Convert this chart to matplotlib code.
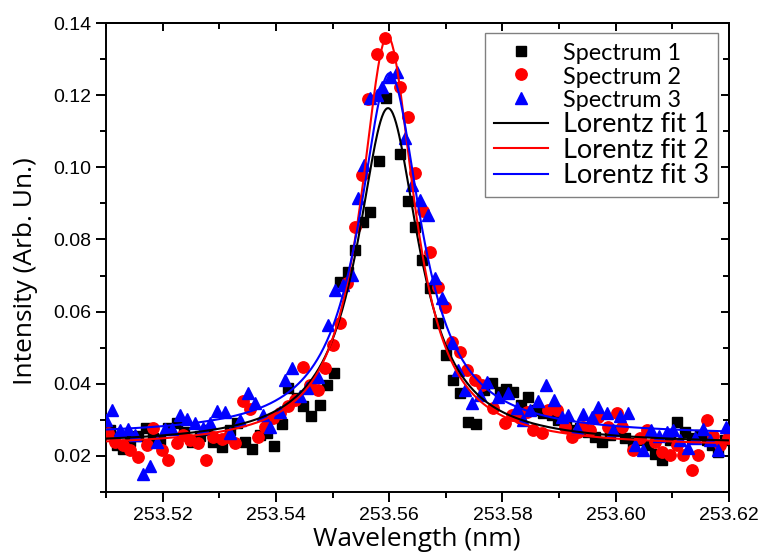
import numpy as np
import matplotlib
matplotlib.use("Agg")
import matplotlib.pyplot as plt
from matplotlib.lines import Line2D
from matplotlib.ticker import MultipleLocator, FormatStrFormatter

# ---------------- data ----------------
s1_x = [253.5107, 253.5119, 253.5130, 253.5142, 253.5156, 253.5171, 253.5183, 253.5195, 253.5209, 253.5225,
        253.5238, 253.5252, 253.5266, 253.5278, 253.5289, 253.5305, 253.5319, 253.5331, 253.5345, 253.5358,
        253.5372, 253.5384, 253.5397, 253.5411, 253.5421, 253.5437, 253.5448, 253.5462, 253.5478, 253.5490,
        253.5503, 253.5513, 253.5527, 253.5540, 253.5554, 253.5566, 253.5582, 253.5594, 253.5619, 253.5633,
        253.5646, 253.5658, 253.5672, 253.5686, 253.5700, 253.5713, 253.5725, 253.5739, 253.5753, 253.5767,
        253.5782, 253.5796, 253.5806, 253.5819, 253.5833, 253.5845, 253.5859, 253.5872, 253.5888, 253.5898,
        253.5912, 253.5925, 253.5937, 253.5951, 253.5963, 253.5976, 253.5990, 253.6002, 253.6016, 253.6031,
        253.6043, 253.6057, 253.6069, 253.6082, 253.6096, 253.6108, 253.6122, 253.6135, 253.6149, 253.6161,
        253.6170, 253.6181, 253.6193]
s1_y = [0.0272, 0.0230, 0.0219, 0.0241, 0.0255, 0.0277, 0.0250, 0.0244, 0.0277, 0.0291,
        0.0266, 0.0239, 0.0255, 0.0272, 0.0239, 0.0225, 0.0272, 0.0291, 0.0239, 0.0219,
        0.0258, 0.0264, 0.0227, 0.0288, 0.0388, 0.0361, 0.0338, 0.0311, 0.0341, 0.0397,
        0.0430, 0.0682, 0.0710, 0.0771, 0.0848, 0.0876, 0.1017, 0.1192, 0.1037, 0.0907,
        0.0835, 0.0743, 0.0665, 0.0568, 0.0480, 0.0410, 0.0374, 0.0294, 0.0288, 0.0383,
        0.0402, 0.0377, 0.0386, 0.0377, 0.0341, 0.0363, 0.0327, 0.0319, 0.0313, 0.0300,
        0.0286, 0.0272, 0.0277, 0.0266, 0.0252, 0.0239, 0.0258, 0.0272, 0.0250, 0.0236,
        0.0244, 0.0230, 0.0205, 0.0189, 0.0244, 0.0294, 0.0266, 0.0250, 0.0258, 0.0244,
        0.0230, 0.0211, 0.0244]

s2_x = [253.5104, 253.5116, 253.5130, 253.5142, 253.5156, 253.5172, 253.5183, 253.5199, 253.5209, 253.5225,
        253.5236, 253.5248, 253.5262, 253.5277, 253.5289, 253.5305, 253.5315, 253.5328, 253.5342, 253.5354,
        253.5368, 253.5381, 253.5395, 253.5407, 253.5421, 253.5434, 253.5448, 253.5460, 253.5474, 253.5487,
        253.5501, 253.5513, 253.5526, 253.5540, 253.5552, 253.5563, 253.5579, 253.5593, 253.5605, 253.5619,
        253.5633, 253.5646, 253.5660, 253.5672, 253.5686, 253.5699, 253.5711, 253.5725, 253.5737, 253.5752,
        253.5764, 253.5783, 253.5805, 253.5817, 253.5831, 253.5843, 253.5854, 253.5870, 253.5880, 253.5896,
        253.5910, 253.5923, 253.5933, 253.5942, 253.5955, 253.5969, 253.5986, 253.6002, 253.6011, 253.6031,
        253.6043, 253.6055, 253.6069, 253.6082, 253.6096, 253.6108, 253.6119, 253.6135, 253.6145, 253.6161,
        253.6172, 253.6184, 253.6198]
s2_y = [0.0264, 0.0239, 0.0230, 0.0216, 0.0197, 0.0230, 0.0277, 0.0216, 0.0189, 0.0236,
        0.0258, 0.0244, 0.0236, 0.0189, 0.0252, 0.0247, 0.0252, 0.0236, 0.0352, 0.0330,
        0.0252, 0.0280, 0.0305, 0.0319, 0.0338, 0.0355, 0.0446, 0.0397, 0.0383, 0.0444,
        0.0507, 0.0568, 0.0679, 0.0835, 0.0979, 0.1189, 0.1314, 0.1358, 0.1306, 0.1223,
        0.1139, 0.0984, 0.0879, 0.0765, 0.0668, 0.0613, 0.0516, 0.0488, 0.0438, 0.0410,
        0.0397, 0.0333, 0.0291, 0.0313, 0.0305, 0.0322, 0.0272, 0.0264, 0.0327, 0.0327,
        0.0280, 0.0252, 0.0266, 0.0280, 0.0272, 0.0308, 0.0280, 0.0319, 0.0280, 0.0216,
        0.0250, 0.0272, 0.0239, 0.0211, 0.0203, 0.0230, 0.0203, 0.0161, 0.0203, 0.0300,
        0.0255, 0.0230, 0.0250]

s3_x = [253.5100, 253.5111, 253.5125, 253.5139, 253.5151, 253.5165, 253.5178, 253.5190, 253.5204, 253.5217,
        253.5231, 253.5243, 253.5257, 253.5271, 253.5284, 253.5296, 253.5310, 253.5319, 253.5337, 253.5351,
        253.5363, 253.5377, 253.5390, 253.5407, 253.5416, 253.5428, 253.5443, 253.5455, 253.5474, 253.5492,
        253.5504, 253.5518, 253.5534, 253.5545, 253.5556, 253.5566, 253.5579, 253.5587, 253.5601, 253.5614,
        253.5628, 253.5640, 253.5654, 253.5669, 253.5681, 253.5693, 253.5711, 253.5722, 253.5734, 253.5746,
        253.5760, 253.5773, 253.5792, 253.5810, 253.5826, 253.5836, 253.5849, 253.5863, 253.5877, 253.5891,
        253.5905, 253.5916, 253.5932, 253.5942, 253.5958, 253.5969, 253.5985, 253.5995, 253.6008, 253.6022,
        253.6034, 253.6048, 253.6062, 253.6076, 253.6091, 253.6101, 253.6114, 253.6128, 253.6140, 253.6154,
        253.6167, 253.6181, 253.6195]
s3_y = [0.0300, 0.0327, 0.0272, 0.0275, 0.0258, 0.0150, 0.0172, 0.0239, 0.0275, 0.0275,
        0.0313, 0.0302, 0.0291, 0.0277, 0.0291, 0.0325, 0.0322, 0.0264, 0.0300, 0.0374,
        0.0347, 0.0313, 0.0280, 0.0322, 0.0410, 0.0444, 0.0366, 0.0388, 0.0419, 0.0563,
        0.0660, 0.0674, 0.0701, 0.0915, 0.1006, 0.1192, 0.1200, 0.1223, 0.1250, 0.1264,
        0.1081, 0.0951, 0.0909, 0.0868, 0.0693, 0.0638, 0.0513, 0.0438, 0.0383, 0.0347,
        0.0369, 0.0405, 0.0363, 0.0374, 0.0333, 0.0300, 0.0327, 0.0352, 0.0397, 0.0355,
        0.0308, 0.0313, 0.0277, 0.0316, 0.0308, 0.0336, 0.0319, 0.0272, 0.0311, 0.0319,
        0.0230, 0.0216, 0.0272, 0.0255, 0.0266, 0.0272, 0.0244, 0.0222, 0.0250, 0.0275,
        0.0244, 0.0216, 0.0280]

# Lorentz fit parameters: baseline y0, amplitude A, centre xc, half-width g
fit_y0 = [0.0232, 0.0225, 0.0256]
fit_A = [0.0932, 0.1138, 0.1005]
fit_xc = [253.5598, 253.5597, 253.5601]
fit_g = [0.0066, 0.0058, 0.0066]

series_labels = ["Spectrum 1", "Spectrum 2", "Spectrum 3"]
fit_labels = ["Lorentz fit 1", "Lorentz fit 2", "Lorentz fit 3"]
colors = ["#000000", "#ff0000", "#0000ff"]

# ---------------- figure ----------------
fig = plt.figure(figsize=(7.65, 5.55), dpi=100)
ax = fig.add_axes([106 / 765, 63 / 555, 623 / 765, 469 / 555])

ax.plot(s1_x, s1_y, linestyle="none", marker="s", ms=7.2, color=colors[0], zorder=2)
ax.plot(s2_x, s2_y, linestyle="none", marker="o", ms=8.2, color=colors[1], zorder=3)
ax.plot(s3_x, s3_y, linestyle="none", marker="^", ms=9.0, color=colors[2], zorder=4)

xf = np.linspace(253.51, 253.62, 800)
for y0, A, xc, g, c in zip(fit_y0, fit_A, fit_xc, fit_g, colors):
    ax.plot(xf, y0 + A / (1 + ((xf - xc) / g) ** 2), color=c, lw=1.5, zorder=5)

ax.set_xlim(253.51, 253.62)
ax.set_ylim(0.01, 0.14)
ax.xaxis.set_major_locator(MultipleLocator(0.02))
ax.xaxis.set_minor_locator(MultipleLocator(0.01))
ax.yaxis.set_major_locator(MultipleLocator(0.02))
ax.yaxis.set_minor_locator(MultipleLocator(0.01))
ax.xaxis.set_major_formatter(FormatStrFormatter("%.2f"))
ax.yaxis.set_major_formatter(FormatStrFormatter("%.2f"))

for sp in ax.spines.values():
    sp.set_linewidth(1.4)

ax.tick_params(which="both", direction="out", top=False, right=False, width=1.4)
ax.tick_params(which="major", length=7)
ax.tick_params(which="minor", length=4.5)
for lbl in ax.get_xticklabels() + ax.get_yticklabels():
    lbl.set_fontfamily("Liberation Sans")
    lbl.set_fontsize(14)

# top/right ticks pointing inward
secx = ax.secondary_xaxis("top")
secx.xaxis.set_major_locator(MultipleLocator(0.02))
secx.xaxis.set_minor_locator(MultipleLocator(0.01))
secx.tick_params(which="both", direction="in", labeltop=False, width=1.4)
secx.tick_params(which="major", length=6)
secx.tick_params(which="minor", length=4)
secx.spines["top"].set_linewidth(1.4)
secy = ax.secondary_yaxis("right")
secy.yaxis.set_major_locator(MultipleLocator(0.02))
secy.yaxis.set_minor_locator(MultipleLocator(0.01))
secy.tick_params(which="both", direction="in", labelright=False, width=1.4)
secy.tick_params(which="major", length=6)
secy.tick_params(which="minor", length=4)
secy.spines["right"].set_linewidth(1.4)

ax.set_xlabel("Wavelength (nm)", fontfamily="Open Sans", fontsize=19)
ax.xaxis.set_label_coords(0.499, -0.074, transform=ax.transAxes)
ax.xaxis.label.set_va("top")
ax.set_ylabel("Intensity (Arb. Un.)", fontfamily="Open Sans", fontsize=19)
ax.yaxis.set_label_coords(-0.130, 0.47)
ax.yaxis.label.set_va("center")

handles = [
    Line2D([], [], linestyle="none", marker="s", ms=7.2, color=colors[0]),
    Line2D([], [], linestyle="none", marker="o", ms=8.2, color=colors[1]),
    Line2D([], [], linestyle="none", marker="^", ms=9.0, color=colors[2]),
    Line2D([], [], color=colors[0], lw=1.5),
    Line2D([], [], color=colors[1], lw=1.5),
    Line2D([], [], color=colors[2], lw=1.5),
]
leg = ax.legend(handles, series_labels + fit_labels, loc="upper right",
                bbox_to_anchor=(0.982, 0.979), borderaxespad=0,
                prop={"family": "Lato", "size": 19.5}, handlelength=2.0,
                handletextpad=0.55, labelspacing=0.02, borderpad=0.32,
                fancybox=False, framealpha=1, edgecolor="#808080")
leg.get_frame().set_linewidth(1.0)
for t in leg.get_texts()[:3]:
    t.set_fontsize(16.8)
leg.set_zorder(10)

fig.savefig("out.png", dpi=100)
